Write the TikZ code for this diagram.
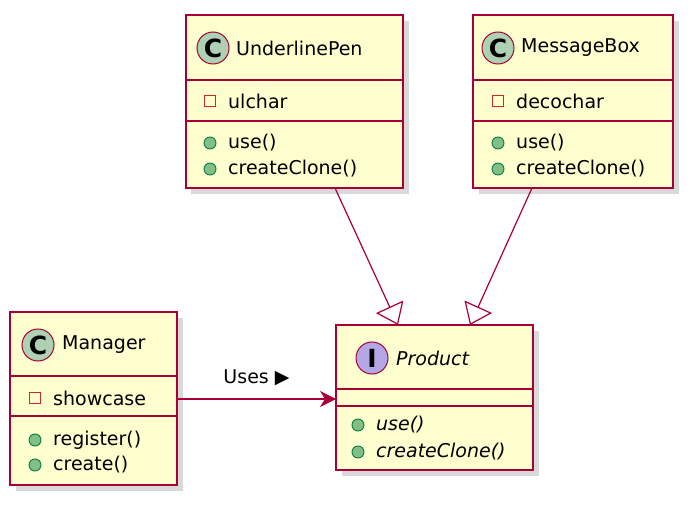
\documentclass[tikz,border=0pt]{standalone}
\usepackage{fontspec}
\setmainfont{DejaVu Sans}
\usetikzlibrary{arrows.meta}
\definecolor{umlred}{HTML}{A80036}
\definecolor{umlfill}{HTML}{FEFECE}
\definecolor{cgreen}{HTML}{ADD1B2}
\definecolor{ipurple}{HTML}{B4A7E5}
\definecolor{pubfill}{HTML}{84BE84}
\definecolor{publine}{HTML}{038048}
\definecolor{privline}{HTML}{C82930}
\tikzset{
  cls/.style={draw=umlred, line width=2pt, fill=umlfill, rectangle, inner sep=0pt},
  shadow/.style={fill=black!25, draw=none, opacity=0.6},
  sep/.style={draw=umlred, line width=2pt},
  txt/.style={anchor=west, inner sep=0pt, font=\fontsize{19}{22}\selectfont},
  itxt/.style={txt, font=\fontsize{19}{22}\selectfont\itshape},
  pub/.style={circle, draw=publine, fill=pubfill, minimum size=12pt, inner sep=0pt, line width=0.9pt},
  priv/.style={rectangle, draw=privline, fill=umlfill, minimum size=11pt, inner sep=0pt, line width=1pt},
  badge/.style={circle, draw=umlred, minimum size=32pt, inner sep=0pt, line width=1pt, font=\fontsize{25}{25}\selectfont\bfseries},
  realize/.style={draw=umlred, line width=1.2pt, -{Triangle[open, width=30pt, length=20pt]}},
  uses/.style={draw=umlred, line width=1.2pt, -{Stealth[length=16pt, width=16pt, inset=5pt]}}
}
\begin{document}
\begin{tikzpicture}[x=1pt, y=-1pt]
\useasboundingbox (0,0) rectangle (699,505);

% shadows
\fill[shadow] (191,21) rectangle (409,194);
\fill[shadow] (479,21) rectangle (679,194);
\fill[shadow] (16,318) rectangle (183,491);
\fill[shadow] (342,331) rectangle (539,476);

% class boxes
\node (upen) [cls, minimum width=217pt, minimum height=173pt] at (294.5,101.5) {};
\node (mbox) [cls, minimum width=200pt, minimum height=173pt] at (573,101.5) {};
\node (mgr) [cls, minimum width=167pt, minimum height=173pt] at (93.5,398.5) {};
\node (prod) [cls, minimum width=197pt, minimum height=145pt] at (434.5,397.5) {};

% compartments
\draw[sep] (186,80) -- (403,80);
\draw[sep] (186,121) -- (403,121);
\draw[sep] (473,80) -- (673,80);
\draw[sep] (473,121) -- (673,121);
\draw[sep] (10,376) -- (177,376);
\draw[sep] (10,416) -- (177,416);
\draw[sep] (336,389) -- (533,389);
\draw[sep] (336,406) -- (533,406);

% UnderlinePen
\node (upenC) [badge, fill=cgreen] at (213,48) {C};
\node (upenN) [txt] at (236,48) {UnderlinePen};
\node (upenA) [priv] at (210,101) {};
\node [txt] at (228,101) {ulchar};
\node [pub] at (210,143) {};
\node [txt] at (228,143) {use()};
\node [pub] at (210,169) {};
\node [txt] at (228,169) {createClone()};

% MessageBox
\node (mboxC) [badge, fill=cgreen] at (498,48) {C};
\node (mboxN) [txt] at (521,48) {MessageBox};
\node [priv] at (498,101) {};
\node [txt] at (516,101) {decochar};
\node [pub] at (498,143) {};
\node [txt] at (516,143) {use()};
\node [pub] at (498,169) {};
\node [txt] at (516,169) {createClone()};

% Manager
\node (mgrC) [badge, fill=cgreen] at (38,345) {C};
\node (mgrN) [txt] at (62,345) {Manager};
\node [priv] at (35,398) {};
\node [txt] at (53,398) {showcase};
\node [pub] at (35,440) {};
\node [txt] at (53,440) {register()};
\node [pub] at (35,465) {};
\node [txt] at (53,465) {create()};

% Product
\node (prodI) [badge, fill=ipurple] at (372,358) {I};
\node (prodN) [itxt] at (396,358) {Product};
\node [pub] at (358,425) {};
\node [itxt] at (376,425) {use()};
\node [pub] at (358,452) {};
\node [itxt] at (376,452) {createClone()};

% connectors
\coordinate (upenOut) at (335,188);
\coordinate (mboxOut) at (532,188);
\coordinate (prodInA) at (398,325);
\coordinate (prodInB) at (470,325);
\coordinate (mgrOut) at (177,399);
\coordinate (prodInC) at (336,399);
\draw[realize] (upenOut) -- (prodInA);
\draw[realize] (mboxOut) -- (prodInB);
\draw[uses] (mgrOut) -- (prodInC) node[midway, above=9pt, font=\fontsize{19}{22}\selectfont] {Uses ▶};
\end{tikzpicture}
\end{document}
